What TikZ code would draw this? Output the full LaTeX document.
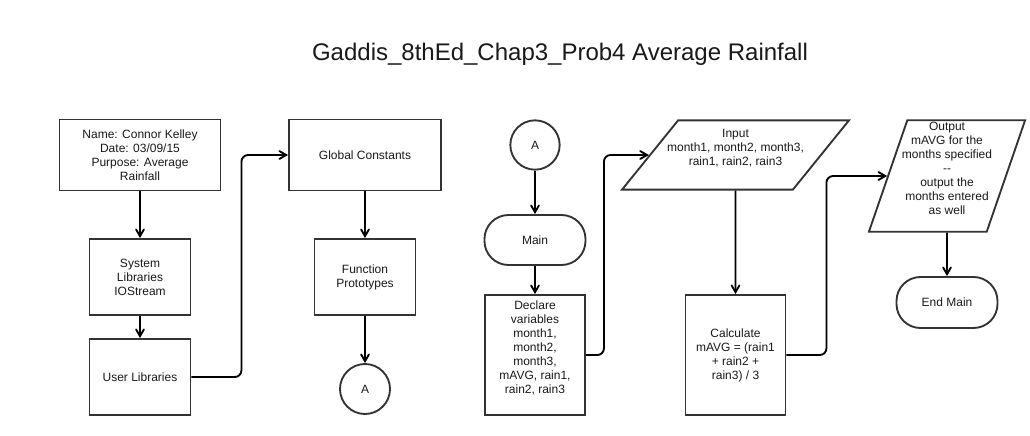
\documentclass[tikz,border=0pt]{standalone}
\usepackage{fontspec}
\setmainfont{Liberation Sans}
\usepackage{xcolor}
\usetikzlibrary{arrows}
\usetikzlibrary{shapes.geometric}
\definecolor{edgegray}{HTML}{333333}

\begin{document}
\begin{tikzpicture}[x=.75pt,y=-.75pt,
  every node/.style={font=\fontsize{9}{10.5}\selectfont, align=center, inner sep=2pt, text=black!90},
  proc/.style={draw=edgegray, line width=1.4pt, rectangle},
  term/.style={draw=edgegray, line width=1.4pt, rectangle, rounded corners=18pt},
  conn/.style={draw=edgegray, line width=1.4pt, circle},
  io/.style={draw=edgegray, line width=1.4pt, trapezium, trapezium stretches body=true},
  flow/.style={black, line width=1.4pt, ->, >=angle 60, rounded corners=5pt}]
\useasboundingbox (0,0) rectangle (1030,435);
\node (title) at (560,54) {\fontsize{18}{22}\selectfont Gaddis\_8thEd\_Chap3\_Prob4 Average Rainfall};
\node[proc, minimum width=120.75pt, minimum height=53.25pt] (name) at (140,155) {Name: Connor Kelley\\Date: 03/09/15\\Purpose: Average\\Rainfall};
\node[proc, minimum width=75.75pt, minimum height=57pt] (sys) at (140,277) {System\\Libraries\\IOStream};
\node[proc, minimum width=75.75pt, minimum height=57pt] (user) at (140,377) {User Libraries};
\node[proc, minimum width=114pt, minimum height=53.25pt] (glob) at (365,155) {Global Constants};
\node[proc, minimum width=75.75pt, minimum height=57pt] (func) at (365,277) {Function\\Prototypes};
\node[conn, minimum size=37.5pt] (ca) at (365,389) {A};
\node[conn, minimum size=37pt] (cb) at (535,145) {A};
\node[term, minimum width=75.75pt, minimum height=37.5pt] (main) at (535,240) {Main};
\node[proc, minimum width=75pt, minimum height=90pt, text depth=12pt] (decl) at (535,355) {Declare\\variables\\month1,\\month2,\\month3,\\mAVG, rain1,\\rain2, rain3};
\node[io, trapezium left angle=51, trapezium right angle=129, inner xsep=-9pt, inner ysep=6.4pt, text depth=12pt, minimum width=170.25pt] (inp) at (735.5,155) {Input\\month1, month2, month3,\\rain1, rain2, rain3};
\node[proc, minimum width=75pt, minimum height=90pt] (calc) at (735.5,355) {Calculate\\mAVG = (rain1\\+ rain2 +\\rain3) / 3};
\node[io, trapezium left angle=71, trapezium right angle=109, inner xsep=-4pt, inner ysep=1.2pt, text depth=12pt, minimum width=117pt] (out) at (947,176) {Output\\mAVG for the\\months specified\\-{}-\\output the\\months entered\\as well};
\node[term, minimum width=75.75pt, minimum height=38.25pt] (endm) at (947,302.5) {End Main};
\draw[flow] (name) -- (sys);
\draw[flow] (sys) -- (user);
\draw[flow] (user.east) -- ++(50,0) |- (glob.west);
\draw[flow] (glob) -- (func);
\draw[flow] (func) -- (ca);
\draw[flow] (cb) -- (main);
\draw[flow] (main) -- (decl);
\draw[flow] (decl.east) -- ++(18,0) |- (inp.west);
\draw[flow] (inp) -- (calc);
\draw[flow] (calc.east) -- ++(40,0) |- (out.west);
\draw[flow] (out) -- (endm);
\end{tikzpicture}
\end{document}
